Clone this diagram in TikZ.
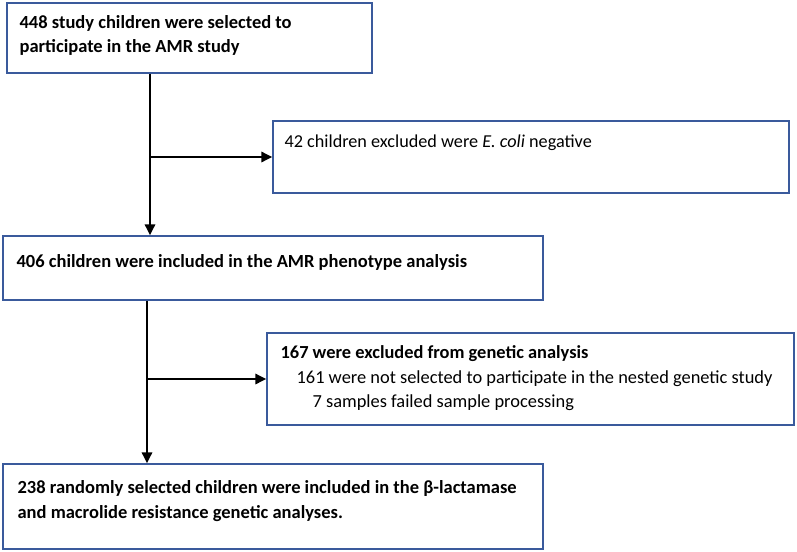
\documentclass[tikz,border=0pt]{standalone}
\usepackage{fontspec}
\setmainfont{Carlito}
\usetikzlibrary{arrows.meta,calc}
\definecolor{boxblue}{HTML}{3A5A9C}
\begin{document}
\begin{tikzpicture}[x=1pt,y=1pt,
  flowbox/.style={draw=boxblue,line width=1.2pt,fill=white,rectangle,inner sep=0pt},
  boxtext/.style={anchor=north west,inner sep=0pt,align=left,font=\fontsize{18.5}{24}\selectfont},
  arr/.style={line width=2.8pt,-{Triangle[length=11pt,width=10pt]}}]
\useasboundingbox (0,0) rectangle (797,-551);
\fill[white] (0,0) rectangle (797,-551);
% boxes
\node[flowbox,minimum width=365pt,minimum height=70pt] (b1) at (189.5,-38) {};
\node[flowbox,minimum width=516pt,minimum height=72pt] (b2) at (531,-157) {};
\node[flowbox,minimum width=540pt,minimum height=64pt] (b3) at (273,-268) {};
\node[flowbox,minimum width=527pt,minimum height=92pt] (b5) at (530.5,-379) {};
\node[flowbox,minimum width=540pt,minimum height=85pt] (b4) at (273,-506.5) {};
% texts
\node[boxtext] (t1) at ($(b1.north west)+(13,-12.5)$) {\bfseries 448 study children were selected to\\\bfseries participate in the AMR study};
\node[boxtext,font=\fontsize{18.2}{24}\selectfont] (t2) at ($(b2.north west)+(12,-14.5)$) {42 children excluded were \textit{E. coli} negative};
\node[boxtext] (t3) at ($(b3.north west)+(14,-19)$) {\bfseries 406 children were included in the AMR phenotype analysis};
\node[boxtext,font=\fontsize{18.4}{24.5}\selectfont] (t5) at ($(b5.north west)+(14,-13)$) {\bfseries 167 were excluded from genetic analysis\\\hspace*{16pt}161 were not selected to participate in the nested genetic study\\\hspace*{32pt}7 samples failed sample processing};
\node[boxtext,font=\fontsize{18.5}{25}\selectfont] (t4) at ($(b4.north west)+(15,-17)$) {\bfseries 238 randomly selected children were included in the β-lactamase\\\bfseries and macrolide resistance genetic analyses.};
% connectors
\coordinate (v1) at (150,0);
\coordinate (v2) at (147,0);
\draw[arr] (b1.south -| v1) -- (b3.north -| v1);
\draw[arr] (b2.west -| v1) -- (b2.west);
\draw[arr] (b3.south -| v2) -- (b4.north -| v2);
\draw[arr] (b5.west -| v2) -- (b5.west);
\end{tikzpicture}
\end{document}
